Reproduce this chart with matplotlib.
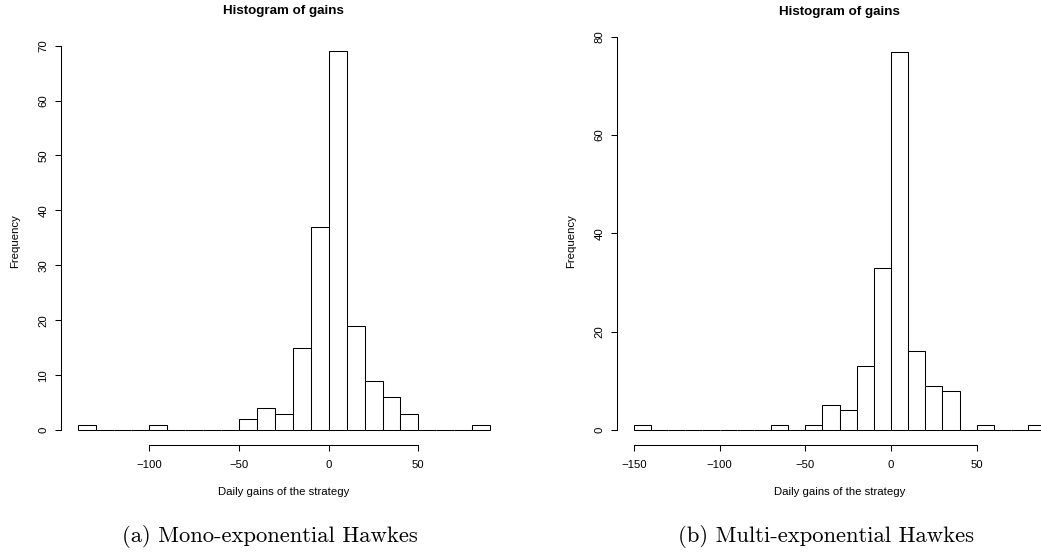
import numpy as np
import matplotlib.pyplot as plt

# histogram counts, bins of width 10
edges_a = np.arange(-140, 91, 10)
counts_a = [1, 0, 0, 0, 1, 0, 0, 0, 0, 2, 4, 3, 15, 37, 69, 19, 9, 6, 3, 0, 0, 0, 1]
edges_b = np.arange(-150, 91, 10)
counts_b = [1, 0, 0, 0, 0, 0, 0, 0, 1, 0, 1, 5, 4, 13, 33, 77, 16, 9, 8, 0, 1, 0, 0, 1]

xticks_a = [-100, -50, 0, 50]
yticks_a = [0, 10, 20, 30, 40, 50, 60, 70]
xticks_b = [-150, -100, -50, 0, 50]
yticks_b = [0, 20, 40, 60, 80]

captions = ["(a) Mono-exponential Hawkes", "(b) Multi-exponential Hawkes"]

W, H = 1041, 554
fig = plt.figure(figsize=(W / 100, H / 100), dpi=100)
plt.rcParams['font.family'] = ['Liberation Sans', 'DejaVu Sans']


def r_hist(rect, edges, counts, xticks, yticks, caption, cap_x):
    ax = fig.add_axes([rect[0] / W, 1 - rect[3] / H, (rect[2] - rect[0]) / W, (rect[3] - rect[1]) / H])
    ax.bar(edges[:-1], counts, width=np.diff(edges), align='edge',
           facecolor='white', edgecolor='black', linewidth=0.75)
    # R style 4% padding
    xr = edges[-1] - edges[0]
    ax.set_xlim(edges[0] - 0.04 * xr, edges[-1] + 0.04 * xr)
    yr = max(counts)
    ax.set_ylim(-0.04 * yr, yr * 1.04)
    for s in ['top', 'right']:
        ax.spines[s].set_visible(False)
    ax.spines['left'].set_bounds(yticks[0], yticks[-1])
    ax.spines['bottom'].set_bounds(xticks[0], xticks[-1])
    for s in ['left', 'bottom']:
        ax.spines[s].set_linewidth(0.75)
    ax.set_xticks(xticks)
    ax.set_yticks(yticks)
    ax.set_xticklabels([str(t).replace('-', '\u2212') for t in xticks])
    ax.tick_params(direction='out', length=4.3, width=0.75, labelsize=8.2, colors='black')
    ax.tick_params(axis='x', pad=6)
    ax.tick_params(axis='y', pad=5, labelrotation=90)
    for lab in ax.get_yticklabels():
        lab.set_va('center')
    ax.set_title("Histogram of gains", fontsize=9.6, fontweight='bold', pad=15.5)
    ax.set_xlabel("Daily gains of the strategy", fontsize=8.2, labelpad=12.5)
    ax.set_ylabel("Frequency", fontsize=8.2, labelpad=13)
    fig.text(cap_x / W, 1 - 537 / H, caption, fontsize=16.3, family='cmr10',
             ha='center', va='center')
    return ax


r_hist((61.2, 36, 506.6, 445.2), edges_a, counts_a, xticks_a, yticks_a, captions[0], 270)
r_hist((617.3, 36.4, 1061.8, 445.2), edges_b, counts_b, xticks_b, yticks_b, captions[1], 826)

fig.savefig("out.png", dpi=100)
